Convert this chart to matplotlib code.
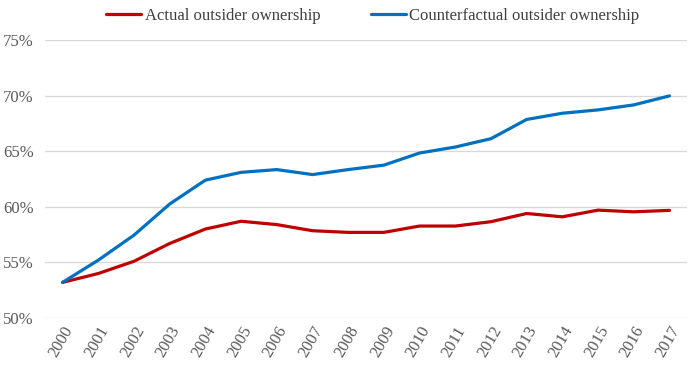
import matplotlib
matplotlib.use("Agg")
import matplotlib.pyplot as plt
from matplotlib.ticker import FuncFormatter

plt.rcParams['font.family'] = ['Liberation Serif', 'DejaVu Serif']

years = [str(y) for y in range(2000, 2018)]
actual = [53.2, 54.0, 55.1, 56.7, 58.0, 58.7, 58.4, 57.85, 57.7, 57.7,
          58.27, 58.27, 58.66, 59.4, 59.1, 59.7, 59.55, 59.68]
counterfactual = [53.2, 55.2, 57.45, 60.25, 62.4, 63.1, 63.35, 62.9, 63.35, 63.75,
                  64.84, 65.38, 66.13, 67.86, 68.42, 68.72, 69.17, 69.98]

fig = plt.figure(figsize=(6.88, 3.68), dpi=100)
ax = fig.add_axes([0.065, 0.136, 0.934, 0.755])

x = range(len(years))
ax.plot(x, actual, color='#C00000', lw=2.3, label='Actual outsider ownership',
        solid_capstyle='round')
ax.plot(x, counterfactual, color='#0070C0', lw=2.3,
        label='Counterfactual outsider ownership', solid_capstyle='round')

ax.set_xlim(-0.5, len(years) - 0.5)
ax.set_ylim(50, 75)
ax.set_yticks([50, 55, 60, 65, 70, 75])
ax.yaxis.set_major_formatter(FuncFormatter(lambda v, p: '%d%%' % v))
ax.set_xticks(list(x))
ax.set_xticklabels(years, rotation=60, ha='right', rotation_mode='anchor')

ax.grid(axis='y', color='#D9D9D9', lw=1)
ax.set_axisbelow(True)
for s in ax.spines.values():
    s.set_visible(False)
ax.tick_params(length=0, labelsize=12, colors='#595959')
ax.tick_params(axis='y', pad=8)
ax.tick_params(axis='x', pad=4)

fig.legend(loc='upper center', bbox_to_anchor=(0.542, 1.02), ncol=2, frameon=False,
           fontsize=12, handlelength=2.1, handletextpad=0.2, columnspacing=3.05,
           labelcolor='#404040')

fig.savefig('out.png', dpi=100)
